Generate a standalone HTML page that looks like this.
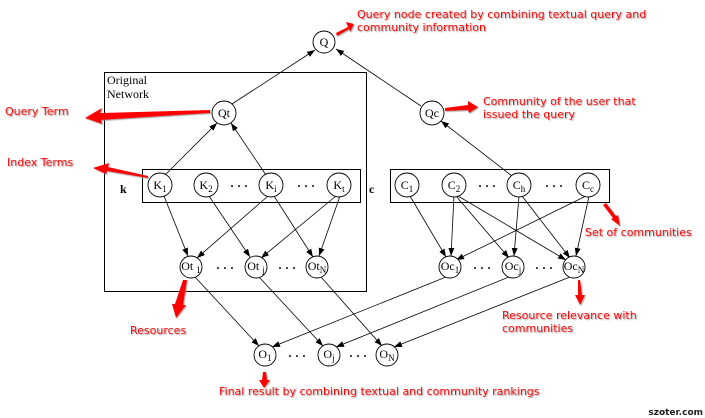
<!DOCTYPE html>
<html><head><meta charset="utf-8"><style>
html,body{margin:0;padding:0;background:#fff;}
svg{display:block;}
.n{font-family:"Liberation Serif",serif;font-size:12px;fill:#000;}
.r{font-family:"DejaVu Sans",sans-serif;font-size:11px;fill:#f00;}
</style></head><body>
<svg width="705" height="418" viewBox="0 0 705 418" xmlns="http://www.w3.org/2000/svg">
<defs>
<marker id="a" markerWidth="8" markerHeight="6" refX="8" refY="3" orient="auto" markerUnits="userSpaceOnUse"><path d="M0,0 L8,3 L0,6 Z" fill="#000"/></marker>
<filter id="sh"><feDropShadow dx="1" dy="1" stdDeviation="0.6" flood-color="#888" flood-opacity="0.8"/></filter>
</defs>
<g fill="none" stroke="#000" stroke-width="1">
<rect x="104.5" y="72.5" width="262" height="219"/>
<rect x="142.5" y="169.5" width="218" height="33"/>
<rect x="390.5" y="169.5" width="219" height="33"/>
</g>
<g stroke="#000" stroke-width="0.8" marker-end="url(#a)">
<line x1="232" y1="104" x2="315" y2="50"/>
<line x1="421" y1="106" x2="336" y2="49"/>
<line x1="165" y1="175" x2="217" y2="123"/>
<line x1="266" y1="175" x2="231" y2="123"/>
<line x1="512" y1="176" x2="441" y2="121"/>
<line x1="164" y1="196" x2="188" y2="256"/>
<line x1="209" y1="196" x2="250" y2="257"/>
<line x1="268" y1="196" x2="197" y2="258"/>
<line x1="274" y1="196" x2="313" y2="257"/>
<line x1="336" y1="196" x2="261" y2="258"/>
<line x1="340" y1="196" x2="319" y2="256"/>
<line x1="410" y1="196" x2="446" y2="257"/>
<line x1="454" y1="196" x2="451" y2="256"/>
<line x1="456" y1="196" x2="509" y2="258"/>
<line x1="458" y1="196" x2="566" y2="260"/>
<line x1="519" y1="196" x2="514" y2="256"/>
<line x1="522" y1="196" x2="570" y2="258"/>
<line x1="586" y1="196" x2="456" y2="260"/>
<line x1="589" y1="196" x2="576" y2="256"/>
<line x1="195" y1="277" x2="259" y2="346"/>
<line x1="259" y1="277" x2="323" y2="346"/>
<line x1="321" y1="277" x2="382" y2="346"/>
<line x1="446" y1="277" x2="272" y2="347"/>
<line x1="509" y1="277" x2="336" y2="347"/>
<line x1="570" y1="277" x2="394" y2="347"/>
</g>
<g fill="#fff" stroke="#000" stroke-width="0.9">
<circle cx="324" cy="42" r="11"/>
<circle cx="224" cy="113" r="12"/>
<circle cx="432" cy="113" r="12"/>
<circle cx="160" cy="185" r="12"/><circle cx="206" cy="185" r="12"/><circle cx="271" cy="185" r="12"/><circle cx="339" cy="185" r="12"/>
<circle cx="407" cy="185" r="12"/><circle cx="454" cy="185" r="12"/><circle cx="519" cy="185" r="12"/><circle cx="588" cy="185" r="12"/>
<circle cx="191" cy="267" r="11"/><circle cx="256" cy="267" r="11"/><circle cx="317" cy="267" r="11"/>
<circle cx="450" cy="267" r="11"/><circle cx="513" cy="267" r="11"/><circle cx="574" cy="267" r="11"/>
<circle cx="265" cy="355" r="11"/><circle cx="329" cy="355" r="11"/><circle cx="387" cy="355" r="11"/>
</g>
<g class="n" text-anchor="middle">
<text x="324" y="46">Q</text>
<text x="224" y="117">Qt</text>
<text x="432" y="117">Qc</text>
<text x="160" y="189">K<tspan font-size="9" dy="3">1</tspan></text>
<text x="206" y="189">K<tspan font-size="9" dy="3">2</tspan></text>
<text x="271" y="189">K<tspan font-size="9" dy="3">i</tspan></text>
<text x="339" y="189">K<tspan font-size="9" dy="3">t</tspan></text>
<text x="407" y="189">C<tspan font-size="9" dy="3">1</tspan></text>
<text x="454" y="189">C<tspan font-size="9" dy="3">2</tspan></text>
<text x="519" y="189">C<tspan font-size="9" dy="3">h</tspan></text>
<text x="588" y="189">C<tspan font-size="9" dy="3">c</tspan></text>
<text x="191" y="270">Ot <tspan font-size="9" dy="3">1</tspan></text>
<text x="256" y="270">Ot <tspan font-size="9" dy="3">j</tspan></text>
<text x="317" y="270">Ot<tspan font-size="9" dy="3">N</tspan></text>
<text x="450" y="270">Oc<tspan font-size="9" dy="3">1</tspan></text>
<text x="513" y="270">Oc<tspan font-size="9" dy="3">j</tspan></text>
<text x="574" y="270">Oc<tspan font-size="9" dy="3">N</tspan></text>
<text x="265" y="358">O<tspan font-size="9" dy="3">1</tspan></text>
<text x="329" y="358">O<tspan font-size="9" dy="3">j</tspan></text>
<text x="387" y="358">O<tspan font-size="9" dy="3">N</tspan></text>
<text x="239" y="190" font-weight="bold">· · ·</text>
<text x="306" y="190" font-weight="bold">· · ·</text>
<text x="487" y="190" font-weight="bold">· · ·</text>
<text x="554" y="190" font-weight="bold">· · ·</text>
<text x="225" y="272" font-weight="bold">· · ·</text>
<text x="287" y="272" font-weight="bold">· · ·</text>
<text x="482" y="272" font-weight="bold">· · ·</text>
<text x="544" y="272" font-weight="bold">· · ·</text>
<text x="297" y="360" font-weight="bold">· · ·</text>
<text x="358" y="360" font-weight="bold">· · ·</text>
</g>
<text class="n" x="107" y="84">Original</text>
<text class="n" x="107" y="98">Network</text>
<text class="n" x="120" y="193" font-weight="bold" font-size="13">k</text>
<text class="n" x="369" y="193" font-weight="bold" font-size="13">c</text>
<g fill="#f00" filter="url(#sh)">
<polygon points="336,33 348,27 346,22 354,24 350,32 349,29 337,36"/>
<polygon points="210,110 100,113 102,108 85,118 102,124 101,120 210,113"/>
<polygon points="148,176 108,167 109,163 93,168 106,174 107,171 148,178"/>
<polygon points="445,108 468,105 468,101 478,107 469,113 468,110 445,111"/>
<polygon points="603,205 613,218 611,219 620,226 618,215 616,216 606,203"/>
<polygon points="187,280 183,305 186,305 176,318 172,304 175,304 183,280"/>
<polygon points="580,280 582,295 585,295 580,305 575,295 578,295 578,280"/>
<polygon points="266,372 267,380 270,380 264,388 259,380 262,380 263,372"/>
</g>
<g class="r" filter="url(#sh)">
<text x="357" y="18">Query node created by combining textual query and</text>
<text x="357" y="31">community information</text>
<text x="483" y="105">Community of the user that</text>
<text x="483" y="118">issued the query</text>
<text x="5" y="115">Query Term</text>
<text x="7" y="166">Index Terms</text>
<text x="585" y="236">Set of communities</text>
<text x="130" y="334">Resources</text>
<text x="502" y="319">Resource relevance with</text>
<text x="502" y="332">communities</text>
<text x="219" y="395">Final result by combining textual and community rankings</text>
</g>
<text x="703" y="415" text-anchor="end" font-family="DejaVu Sans,sans-serif" font-size="9" font-weight="bold" fill="#222">szoter.com</text>
</svg>
</body></html>
